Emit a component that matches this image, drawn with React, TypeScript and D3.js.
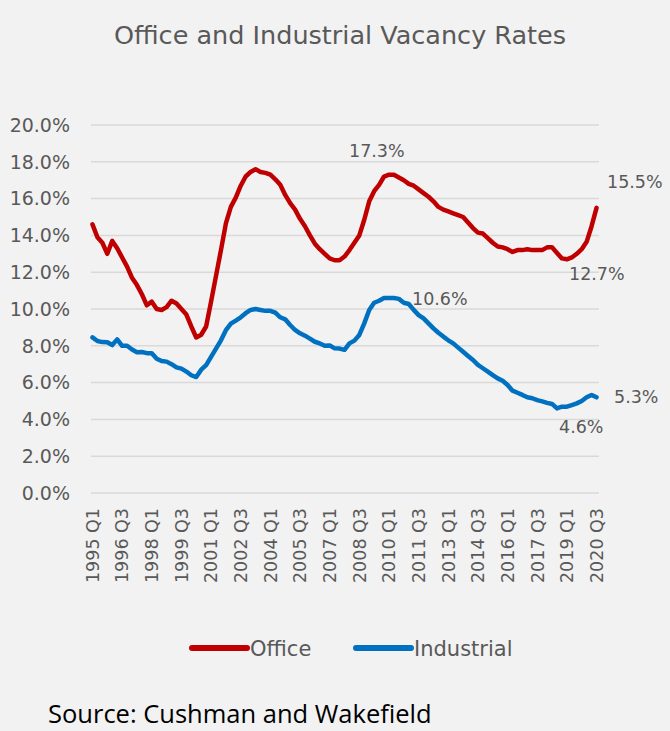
import React, { useEffect, useRef } from "react";
import * as d3 from "d3";

const years = d3.range(1995, 2021);
const quarters = years.flatMap((y) => [1, 2, 3, 4].map((q) => `${y} Q${q}`)).slice(0, 103);

const office = [
  14.6, 13.9, 13.6, 13.0, 13.7, 13.3, 12.8, 12.3, 11.7, 11.3, 10.8, 10.2, 10.4, 10.0, 9.95, 10.1,
  10.45, 10.3, 10.0, 9.7, 9.05, 8.45, 8.6, 9.05, 10.4, 11.8, 13.2, 14.65, 15.55, 16.05, 16.7, 17.2,
  17.45, 17.6, 17.45, 17.4, 17.3, 17.05, 16.75, 16.2, 15.75, 15.4, 14.9, 14.5, 14.0, 13.55, 13.25,
  13.0, 12.75, 12.65, 12.65, 12.85, 13.2, 13.6, 14.0, 14.85, 15.85, 16.4, 16.75, 17.2, 17.3, 17.3,
  17.15, 17.0, 16.8, 16.7, 16.5, 16.3, 16.1, 15.85, 15.55, 15.4, 15.3, 15.2, 15.1, 15.0, 14.7, 14.4,
  14.15, 14.1, 13.85, 13.6, 13.4, 13.35, 13.25, 13.1, 13.2, 13.2, 13.25, 13.2, 13.2, 13.2, 13.35,
  13.35, 13.05, 12.75, 12.7, 12.8, 13.0, 13.25, 13.65, 14.5, 15.5,
];

const industrial = [
  8.46, 8.26, 8.2, 8.19, 8.04, 8.35, 8.0, 8.0, 7.8, 7.65, 7.66, 7.6, 7.6, 7.3, 7.17, 7.14, 7.0, 6.83,
  6.76, 6.6, 6.4, 6.3, 6.7, 6.95, 7.4, 7.85, 8.3, 8.85, 9.2, 9.37, 9.55, 9.77, 9.95, 10.0, 9.95, 9.9,
  9.9, 9.8, 9.55, 9.44, 9.13, 8.86, 8.68, 8.55, 8.39, 8.22, 8.13, 8.0, 8.02, 7.86, 7.85, 7.78, 8.13,
  8.28, 8.59, 9.22, 9.95, 10.34, 10.45, 10.6, 10.6, 10.6, 10.55, 10.34, 10.27, 9.95, 9.67, 9.49,
  9.22, 8.95, 8.71, 8.5, 8.3, 8.13, 7.9, 7.68, 7.45, 7.23, 6.96, 6.78, 6.6, 6.41, 6.23, 6.1, 5.87,
  5.56, 5.45, 5.33, 5.2, 5.15, 5.05, 4.98, 4.9, 4.84, 4.6, 4.69, 4.69, 4.78, 4.87, 5.0, 5.2, 5.33, 5.2,
];

const yTicks = d3.range(0, 21, 2);
const tickEvery = 6;

const GREY = "#595959";
const FONT = "'DejaVu Sans', sans-serif";

export default function App() {
  const ref = useRef<SVGSVGElement>(null);

  useEffect(() => {
    document.body.style.margin = "0";
    const svg = d3.select(ref.current);
    svg.selectAll("*").remove();

    const W = 670;
    const H = 731;
    const x = d3.scalePoint<string>().domain(quarters).range([90, 599]).padding(0.5);
    const y = d3.scaleLinear().domain([0, 20]).range([493, 125]);

    svg.append("rect").attr("width", W).attr("height", H).attr("fill", "#f2f2f2");

    svg
      .append("text")
      .attr("x", 340)
      .attr("y", 44)
      .attr("text-anchor", "middle")
      .attr("font-family", FONT)
      .attr("font-size", 25.5)
      .attr("fill", GREY)
      .text("Office and Industrial Vacancy Rates");

    // grid + y labels
    const grid = svg.append("g");
    grid
      .selectAll("line")
      .data(yTicks)
      .join("line")
      .attr("x1", 91)
      .attr("x2", 599)
      .attr("y1", (d) => y(d))
      .attr("y2", (d) => y(d))
      .attr("stroke", "#d9d9d9")
      .attr("stroke-width", 1.5);
    grid
      .selectAll("text")
      .data(yTicks)
      .join("text")
      .attr("x", 70)
      .attr("y", (d) => y(d))
      .attr("dy", "0.36em")
      .attr("text-anchor", "end")
      .attr("font-family", FONT)
      .attr("font-size", 19)
      .attr("fill", GREY)
      .text((d) => d3.format(".1f")(d) + "%");

    // x labels
    svg
      .append("g")
      .selectAll("text")
      .data(quarters.filter((_, i) => i % tickEvery === 0))
      .join("text")
      .attr("transform", (d) => `translate(${x(d)},508) rotate(-90)`)
      .attr("dy", "0.36em")
      .attr("text-anchor", "end")
      .attr("font-family", FONT)
      .attr("font-size", 17.5)
      .attr("fill", GREY)
      .text((d) => d);

    const line = d3
      .line<number>()
      .x((_, i) => x(quarters[i])!)
      .y((d) => y(d));

    const series = [
      { name: "Office", values: office, color: "#c00000" },
      { name: "Industrial", values: industrial, color: "#0070c0" },
    ];

    series.forEach((s) => {
      svg
        .append("path")
        .datum(s.values)
        .attr("fill", "none")
        .attr("stroke", s.color)
        .attr("stroke-width", 4.5)
        .attr("stroke-linejoin", "round")
        .attr("stroke-linecap", "round")
        .attr("d", line);
    });

    // data labels
    const labels = [
      { text: "17.3%", x: 349, y: 157 },
      { text: "15.5%", x: 607, y: 188 },
      { text: "12.7%", x: 569, y: 280 },
      { text: "10.6%", x: 412, y: 305 },
      { text: "5.3%", x: 614, y: 403 },
      { text: "4.6%", x: 559, y: 433 },
    ];
    svg
      .append("g")
      .selectAll("text")
      .data(labels)
      .join("text")
      .attr("x", (d) => d.x)
      .attr("y", (d) => d.y)
      .attr("font-family", FONT)
      .attr("font-size", 17.5)
      .attr("fill", GREY)
      .text((d) => d.text);

    // legend
    const legend = svg.append("g");
    const items = [
      { ...series[0], x1: 192, tx: 250 },
      { ...series[1], x1: 356, tx: 414 },
    ];
    items.forEach((it) => {
      legend
        .append("line")
        .attr("x1", it.x1)
        .attr("x2", it.x1 + 55)
        .attr("y1", 648)
        .attr("y2", 648)
        .attr("stroke", it.color)
        .attr("stroke-width", 6)
        .attr("stroke-linecap", "round");
      legend
        .append("text")
        .attr("x", it.tx)
        .attr("y", 648)
        .attr("dy", "0.36em")
        .attr("font-family", FONT)
        .attr("font-size", 21)
        .attr("fill", GREY)
        .text(it.name);
    });

    svg
      .append("text")
      .attr("x", 48)
      .attr("y", 723)
      .attr("font-family", "'Open Sans', sans-serif")
      .attr("font-size", 25.5)
      .attr("fill", "#000")
      .text("Source: Cushman and Wakefield");
  }, []);

  return <svg ref={ref} width={670} height={731} style={{ display: "block" }} />;
}
